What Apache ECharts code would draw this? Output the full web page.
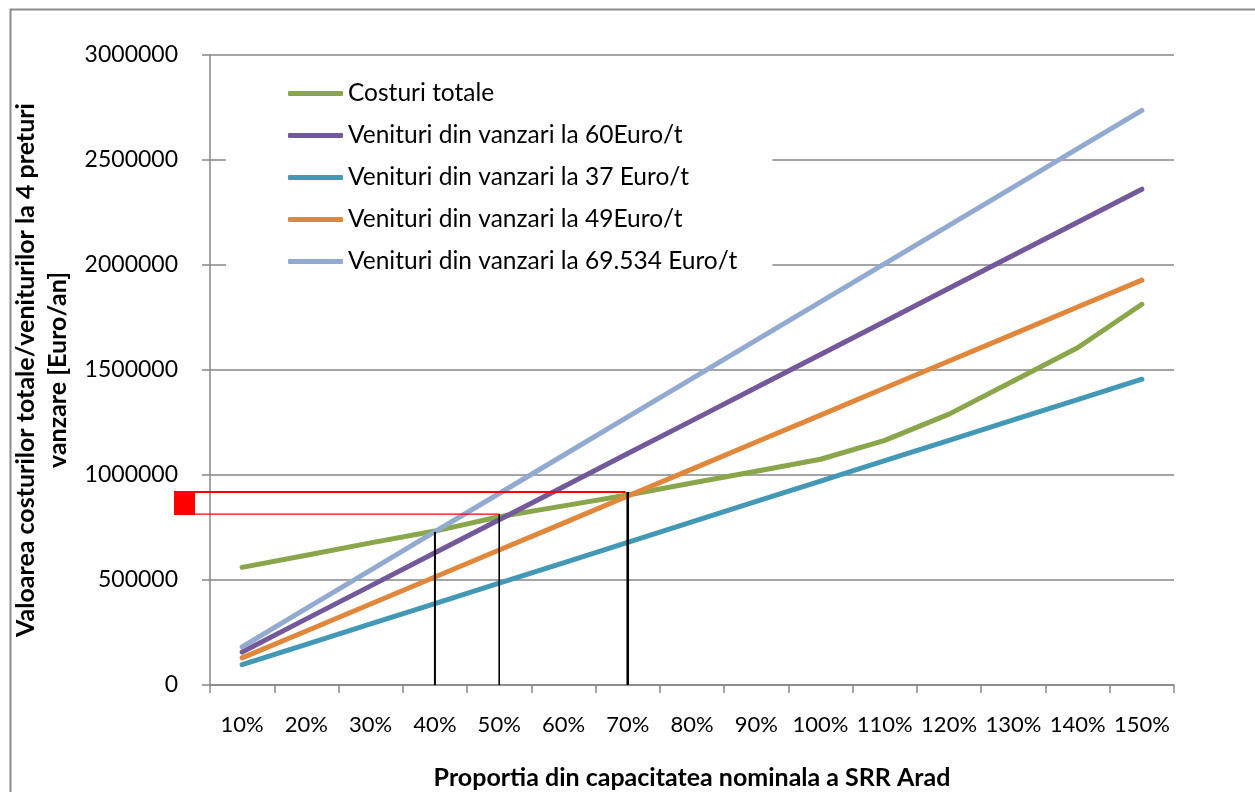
<!DOCTYPE html>
<html>
<head>
<meta charset="utf-8">
<script src="https://cdn.jsdelivr.net/npm/echarts@6/dist/echarts.min.js"></script>
<style>
html,body{margin:0;padding:0;background:#fff;}
#chart{width:1255px;height:792px;}
</style>
</head>
<body>
<div id="chart"></div>
<script>
// ---- Data ----
const categories = ['10%','20%','30%','40%','50%','60%','70%','80%','90%','100%','110%','120%','130%','140%','150%'];
const costuriTotale = [560000, 618000, 677000, 733000, 801000, 853000, 905000, 962000, 1018000, 1075000, 1165000, 1290000, 1448000, 1606000, 1813000];
const venituri60 = [157000, 315000, 472000, 630000, 787000, 944000, 1102000, 1259000, 1417000, 1574000, 1731000, 1889000, 2046000, 2204000, 2361000];
const venituri37 = [97000, 194000, 291000, 388000, 485000, 582000, 679000, 777000, 874000, 971000, 1068000, 1165000, 1262000, 1359000, 1456000];
const venituri49 = [129000, 257000, 386000, 514000, 643000, 771000, 900000, 1028000, 1157000, 1285000, 1414000, 1543000, 1671000, 1800000, 1928000];
const venituri69 = [182000, 365000, 547000, 730000, 912000, 1094000, 1277000, 1459000, 1642000, 1824000, 2007000, 2189000, 2371000, 2554000, 2736000];
const seriesNames = ['Costuri totale','Venituri din vanzari la 60Euro/t','Venituri din vanzari la 37 Euro/t','Venituri din vanzari la 49Euro/t','Venituri din vanzari la 69.534 Euro/t'];
const yTicks = [0, 500000, 1000000, 1500000, 2000000, 2500000, 3000000];
// Break-even guide lines (category, value at top)
const guideCats = ['40%', '50%', '70%'];
const guideTops = [729000, 814000, 919000];
// Red band on the value axis
const bandLow = 814000;
const bandHigh = 919000;
const bandLowEnd = '50%';
const bandHighEnd = '70%';

const FONT = 'Lato';
const colors = ['#89a64b', '#73589a', '#4298b5', '#e0873b', '#93aad0'];
const seriesData = [costuriTotale, venituri60, venituri37, venituri49, venituri69];

const chart = echarts.init(document.getElementById('chart'));

const lineSeries = seriesNames.map((n, i) => ({
  name: n,
  type: 'line',
  data: seriesData[i],
  symbol: 'none',
  smooth: false,
  z: 2,
  lineStyle: { color: colors[i], width: 5, cap: 'round', join: 'round' },
  itemStyle: { color: colors[i] }
}));

const annotation = {
  type: 'custom',
  name: 'annot',
  data: [[0, 0]],
  clip: false,
  silent: true,
  z: 5,
  renderItem: function (params, api) {
    const gx = params.coordSys.x;
    const y0 = api.coord([0, 0])[1];
    const children = [];
    const widths = [2, 1.6, 2.6];
    guideCats.forEach((c, i) => {
      const idx = categories.indexOf(c);
      const top = api.coord([idx, guideTops[i]]);
      children.push({
        type: 'line',
        shape: { x1: top[0], y1: y0, x2: top[0], y2: top[1] },
        style: { stroke: '#000', lineWidth: widths[i] }
      });
    });
    const hi = api.coord([categories.indexOf(bandHighEnd), bandHigh]);
    const lo = api.coord([categories.indexOf(bandLowEnd), bandLow]);
    children.push({
      type: 'line',
      shape: { x1: gx - 29, y1: hi[1], x2: hi[0] - 2, y2: hi[1] },
      style: { stroke: '#ff0000', lineWidth: 2 }
    });
    children.push({
      type: 'line',
      shape: { x1: gx - 15, y1: lo[1], x2: lo[0], y2: lo[1] },
      style: { stroke: '#ff0000', lineWidth: 1.2 }
    });
    children.push({
      type: 'rect',
      shape: { x: gx - 36, y: hi[1] - 1, width: 21, height: lo[1] - hi[1] + 2 },
      style: { fill: '#ff0000' }
    });
    return { type: 'group', children: children };
  }
};

const option = {
  backgroundColor: '#fff',
  animation: false,
  textStyle: { fontFamily: FONT },
  graphic: [{
    type: 'rect',
    left: 8, top: 7,
    shape: { width: 1246, height: 820 },
    style: { fill: 'none', stroke: '#8c8c8c', lineWidth: 2 },
    z: -10
  }],
  grid: { left: 210, right: 81, top: 55, bottom: 107, containLabel: false, outerBoundsMode: 'none' },
  legend: {
    data: seriesNames,
    orient: 'vertical',
    left: 226,
    top: 62,
    padding: [19, 35, 22, 62],
    backgroundColor: '#fff',
    itemWidth: 55,
    itemHeight: 5,
    itemGap: 17,
    icon: 'roundRect',
    z: 4,
    textStyle: { fontFamily: FONT, fontSize: 24.5, color: '#000', lineHeight: 25 }
  },
  xAxis: {
    type: 'category',
    data: categories,
    boundaryGap: true,
    axisLine: { show: true, lineStyle: { color: '#868686', width: 1.5 } },
    axisTick: { show: true, length: 8, inside: false, alignWithLabel: false, lineStyle: { color: '#868686', width: 1.5 } },
    axisLabel: { interval: 0, margin: 29, fontFamily: FONT, fontSize: 22, color: '#000' },
    splitLine: { show: false },
    name: 'Proportia din capacitatea nominala a SRR Arad',
    nameLocation: 'middle',
    nameGap: 80,
    nameTextStyle: { fontFamily: FONT, fontSize: 25, fontWeight: 'bold', color: '#000' }
  },
  yAxis: {
    type: 'value',
    min: yTicks[0],
    max: yTicks[yTicks.length - 1],
    interval: yTicks[1] - yTicks[0],
    axisLine: { show: true, lineStyle: { color: '#868686', width: 1.5 } },
    axisTick: { show: true, length: 8, lineStyle: { color: '#868686', width: 1.5 } },
    axisLabel: { margin: 32, fontFamily: FONT, fontSize: 23, color: '#000', formatter: v => String(v) },
    splitLine: { show: true, lineStyle: { color: '#868686', width: 1.5 } },
    name: 'Valoarea costurilor totale/veniturilor la 4 preturi\nvanzare [Euro/an]',
    nameLocation: 'middle',
    nameRotate: 90,
    nameGap: 133,
    nameTextStyle: { fontFamily: FONT, fontSize: 25, fontWeight: 'bold', color: '#000', lineHeight: 32, align: 'center' }
  },
  series: lineSeries.concat([annotation])
};
chart.setOption(option);
</script>
</body>
</html>
